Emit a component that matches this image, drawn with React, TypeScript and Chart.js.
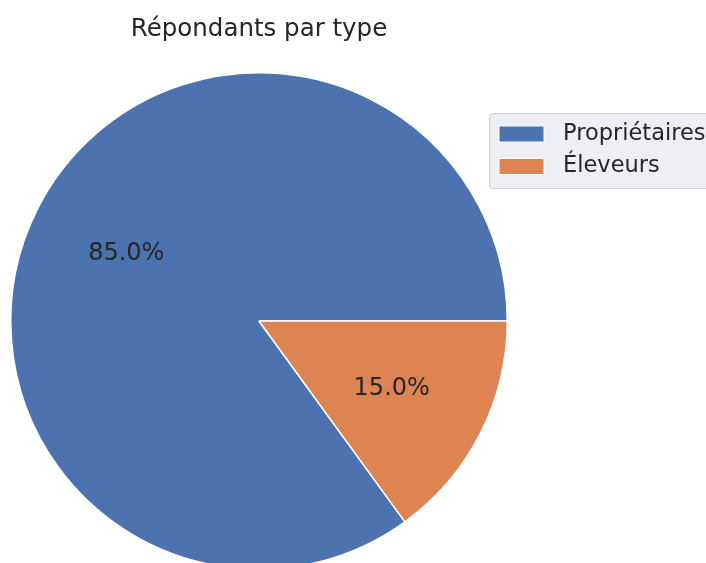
import React, { useEffect, useRef } from "react";
import { Chart, registerables } from "chart.js";

Chart.register(...registerables);

const categories = ["Propriétaires", "Éleveurs"];
const values = [85, 15];
const colors = ["#4C72B0", "#DD8452"];
const titleText = "Répondants par type";

const FONT = "'DejaVu Sans', sans-serif";

const overlayPlugin = {
  id: "overlay",
  afterDraw(chart: any) {
    const ctx = chart.ctx as CanvasRenderingContext2D;
    const meta = chart.getDatasetMeta(0);
    const total = values.reduce((a, b) => a + b, 0);
    ctx.save();
    // percentage labels
    ctx.fillStyle = "#262626";
    ctx.font = `24px ${FONT}`;
    ctx.textAlign = "center";
    ctx.textBaseline = "middle";
    meta.data.forEach((arc: any, i: number) => {
      const { x, y, startAngle, endAngle, outerRadius } = arc.getProps(
        ["x", "y", "startAngle", "endAngle", "outerRadius"],
        true
      );
      const mid = (startAngle + endAngle) / 2;
      const r = outerRadius * 0.6;
      const pct = ((values[i] / total) * 100).toFixed(1) + "%";
      ctx.fillText(pct, x + Math.cos(mid) * r, y + Math.sin(mid) * r);
    });
    // title
    ctx.font = `24.5px ${FONT}`;
    ctx.fillText(titleText, 259, 29.5);
    // legend
    const lx = 489.5, ly = 113.5, lw = 240, lh = 75, rad = 3;
    ctx.beginPath();
    ctx.moveTo(lx + rad, ly);
    ctx.lineTo(lx + lw - rad, ly);
    ctx.quadraticCurveTo(lx + lw, ly, lx + lw, ly + rad);
    ctx.lineTo(lx + lw, ly + lh - rad);
    ctx.quadraticCurveTo(lx + lw, ly + lh, lx + lw - rad, ly + lh);
    ctx.lineTo(lx + rad, ly + lh);
    ctx.quadraticCurveTo(lx, ly + lh, lx, ly + lh - rad);
    ctx.lineTo(lx, ly + rad);
    ctx.quadraticCurveTo(lx, ly, lx + rad, ly);
    ctx.closePath();
    ctx.fillStyle = "rgba(234,234,242,0.8)";
    ctx.fill();
    ctx.strokeStyle = "#d0d0d8";
    ctx.lineWidth = 1;
    ctx.stroke();
    ctx.font = `22.5px ${FONT}`;
    ctx.textAlign = "left";
    ctx.textBaseline = "middle";
    categories.forEach((c, i) => {
      const py = 126 + i * 32.5;
      ctx.fillStyle = colors[i];
      ctx.fillRect(499, py, 45, 16);
      ctx.strokeStyle = "#ffffff";
      ctx.lineWidth = 1;
      ctx.strokeRect(499, py, 45, 16);
      ctx.fillStyle = "#262626";
      ctx.fillText(c, 563, py + 8);
    });
    ctx.restore();
  },
};

export default function App() {
  const ref = useRef<HTMLCanvasElement | null>(null);
  useEffect(() => {
    document.body.style.margin = "0";
    if (!ref.current) return;
    const chart = new Chart(ref.current, {
      type: "pie",
      data: {
        labels: categories,
        datasets: [
          {
            data: values,
            backgroundColor: colors,
            borderColor: "#ffffff",
            borderWidth: 1.5,
          },
        ],
      },
      options: {
        responsive: false,
        animation: false,
        rotation: 144,
        layout: { padding: { left: 10, top: 72, right: 198, bottom: 30 } },
        plugins: {
          legend: { display: false },
          title: { display: false },
          tooltip: { enabled: false },
        },
      },
      plugins: [overlayPlugin],
    });
    return () => chart.destroy();
  }, []);
  return (
    <div style={{ position: "fixed", left: 0, top: 0, width: 706, height: 563, overflow: "hidden", background: "#fff" }}>
      <canvas ref={ref} width={706} height={600} style={{ display: "block", width: 706, height: 600 }} />
    </div>
  );
}
